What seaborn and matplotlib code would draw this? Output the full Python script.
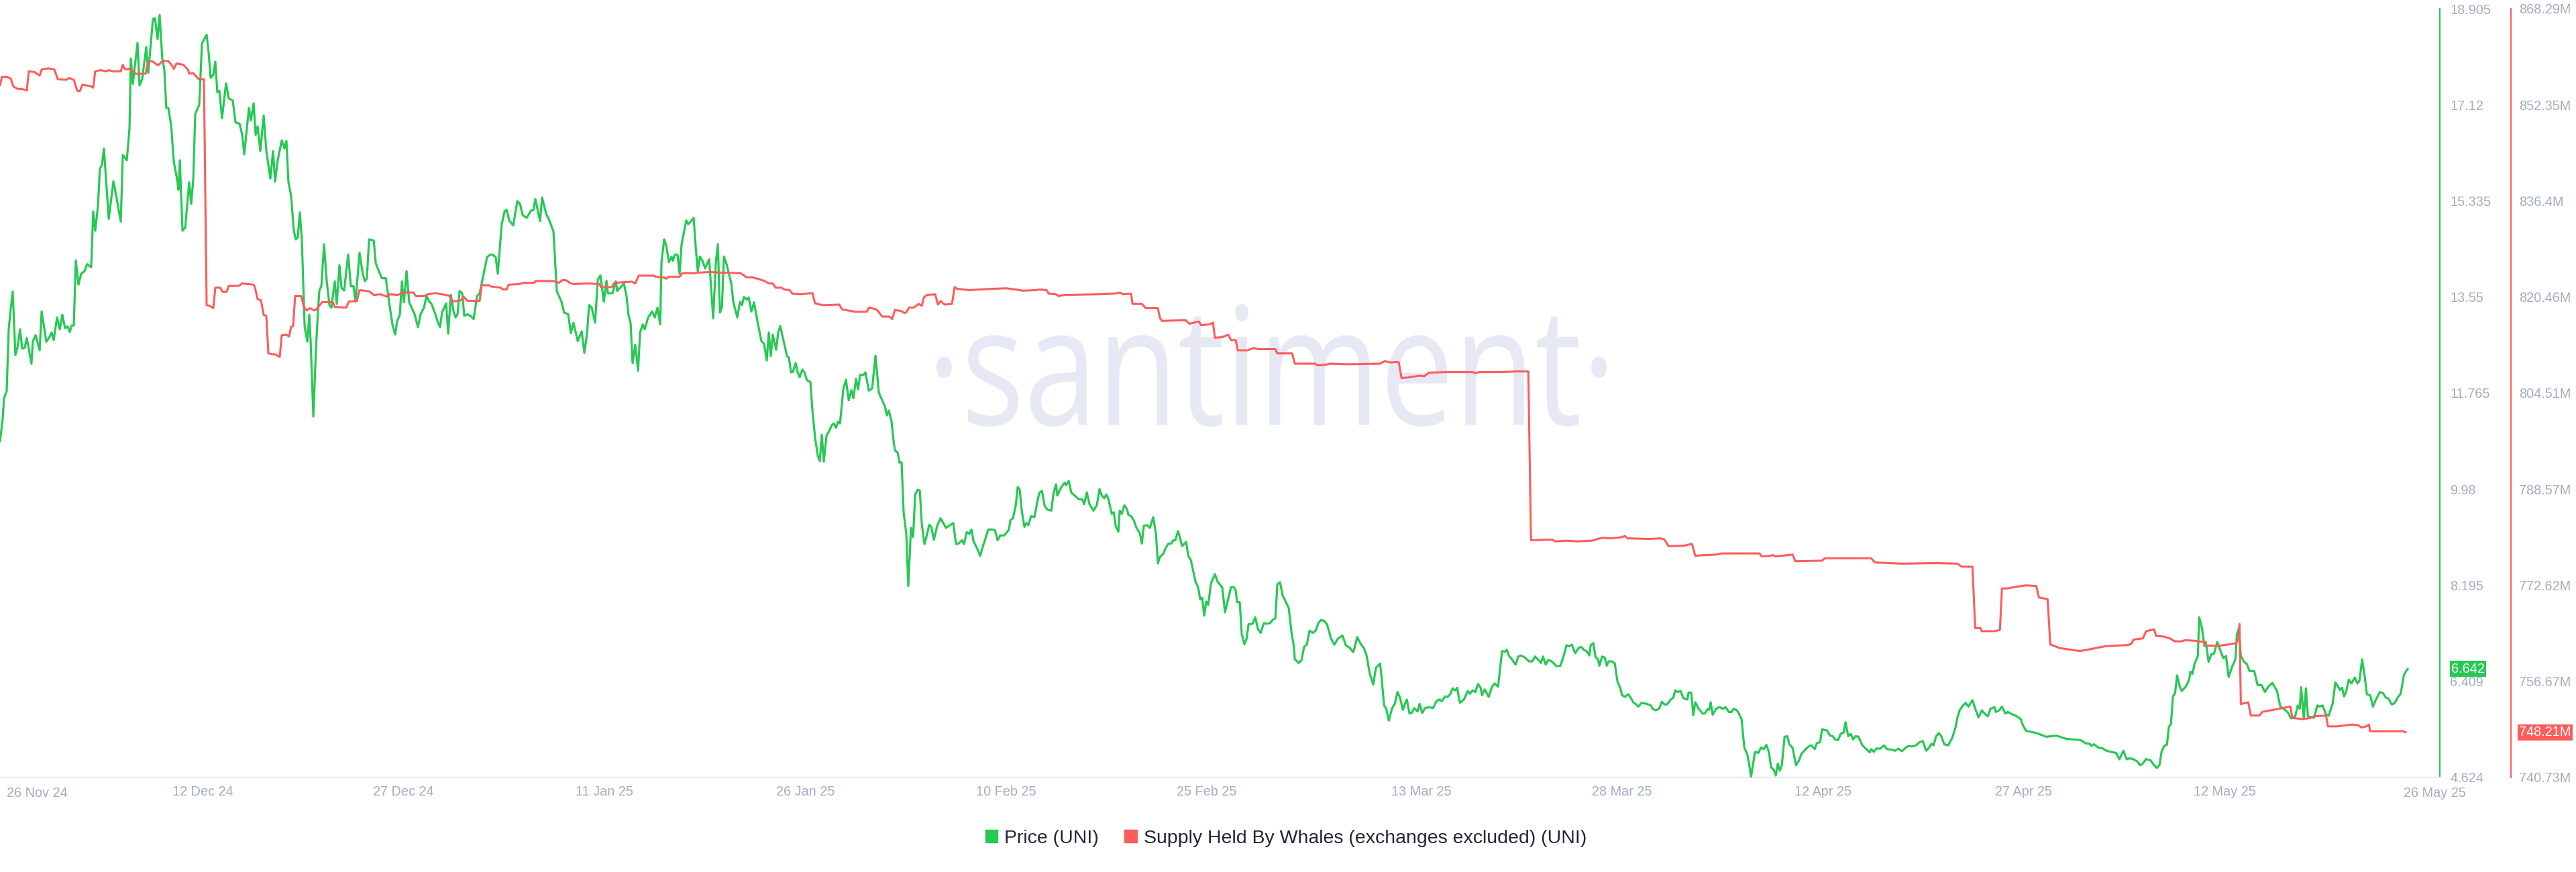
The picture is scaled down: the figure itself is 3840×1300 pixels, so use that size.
import matplotlib
matplotlib.use("Agg")
import matplotlib.pyplot as plt
import matplotlib.patches as mpatches
import matplotlib.transforms as mtransforms
from matplotlib.textpath import TextPath
from matplotlib.font_manager import FontProperties
import seaborn as sns
import pandas as pd

# time axis: days after 2024-11-27 00:00
START = pd.Timestamp("2024-11-27")

price_days = [
    0.37, 0.57, 0.67, 0.87, 1.02, 1.17, 1.32, 1.52, 1.67, 1.87,
    2.02, 2.22, 2.37, 2.72, 2.82, 3.03, 3.33, 3.48, 3.83, 4.03,
    4.23, 4.38, 4.63, 4.83, 5.03, 5.23, 5.43, 5.58, 5.73, 5.88,
    6.03, 6.23, 6.43, 6.68, 6.88, 7.18, 7.33, 7.48, 7.68, 7.83,
    7.98, 8.13, 8.49, 8.84, 9.09, 9.39, 9.54, 9.84, 10.04, 10.14,
    10.29, 10.64, 10.79, 10.99, 11.29, 11.44, 11.79, 11.94, 12.14, 12.29,
    12.49, 12.64, 12.79, 12.94, 13.15, 13.35, 13.60, 13.70, 13.80, 14.00,
    14.20, 14.50, 14.65, 14.80, 14.95, 15.25, 15.45, 15.80, 15.95, 16.10,
    16.30, 16.45, 16.60, 16.75, 16.95, 17.25, 17.45, 17.75, 17.96, 18.26,
    18.46, 18.61, 18.96, 19.11, 19.31, 19.46, 19.61, 19.81, 20.06, 20.26,
    20.56, 20.76, 20.91, 21.11, 21.41, 21.61, 21.76, 21.91, 22.11, 22.31,
    22.46, 22.61, 22.76, 22.91, 23.12, 23.32, 23.47, 23.57, 23.77, 23.97,
    24.12, 24.22, 24.37, 24.57, 24.77, 24.97, 25.12, 25.37, 25.52, 25.72,
    25.87, 26.07, 26.37, 26.57, 26.77, 26.92, 27.22, 27.47, 27.62, 27.77,
    27.93, 28.28, 28.43, 28.58, 28.88, 29.18, 29.43, 29.68, 29.88, 30.03,
    30.23, 30.38, 30.53, 30.73, 30.93, 31.33, 31.58, 31.78, 32.03, 32.23,
    32.43, 32.58, 32.88, 33.08, 33.23, 33.38, 33.69, 33.84, 34.04, 34.24,
    34.39, 34.54, 34.69, 34.89, 35.04, 35.29, 35.49, 35.74, 35.99, 36.19,
    36.49, 36.74, 36.94, 37.14, 37.39, 37.54, 37.84, 38.05, 38.20, 38.40,
    38.70, 39.00, 39.20, 39.40, 39.70, 40.05, 40.20, 40.35, 40.70, 40.85,
    41.15, 41.40, 41.70, 41.95, 42.30, 42.50, 42.80, 43.00, 43.20, 43.51,
    43.81, 44.01, 44.21, 44.36, 44.56, 44.81, 45.01, 45.21, 45.46, 45.66,
    45.76, 46.11, 46.36, 46.46, 46.96, 47.16, 47.31, 47.46, 47.61, 47.81,
    48.02, 48.17, 48.37, 48.52, 48.77, 49.07, 49.27, 49.47, 49.67, 49.77,
    49.97, 50.12, 50.32, 50.52, 50.62, 50.77, 50.97, 51.12, 51.27, 51.62,
    51.77, 52.17, 52.33, 52.48, 52.63, 52.83, 53.03, 53.23, 53.33, 53.63,
    53.83, 53.98, 54.13, 54.28, 54.43, 54.63, 54.98, 55.13, 55.43, 55.63,
    55.78, 55.93, 56.13, 56.28, 56.48, 56.68, 56.93, 57.23, 57.43, 57.63,
    57.78, 57.93, 58.08, 58.33, 58.49, 58.64, 58.89, 59.14, 59.29, 59.44,
    59.59, 59.79, 59.94, 60.09, 60.29, 60.44, 60.64, 60.89, 61.04, 61.24,
    61.44, 61.59, 61.74, 61.89, 62.09, 62.29, 62.49, 62.64, 62.80, 62.95,
    63.10, 63.35, 63.55, 63.75, 63.95, 64.10, 64.30, 64.45, 64.60, 64.85,
    65.00, 65.25, 65.50, 65.75, 66.00, 66.25, 66.45, 66.60, 66.75, 66.95,
    67.10, 67.20, 67.40, 67.55, 67.70, 67.85, 68.05, 68.20, 68.40, 68.56,
    68.71, 68.91, 69.06, 69.21, 69.41, 69.61, 69.76, 69.91, 70.11, 70.36,
    70.61, 70.81, 71.01, 71.31, 71.56, 71.76, 71.96, 72.21, 72.36, 72.56,
    72.76, 72.92, 73.07, 73.32, 73.57, 73.77, 73.92, 74.17, 74.47, 74.67,
    74.87, 75.07, 75.37, 75.72, 75.82, 76.02, 76.22, 76.37, 76.52, 76.67,
    76.87, 77.02, 77.17, 77.37, 77.62, 77.83, 77.98, 78.18, 78.38, 78.58,
    78.88, 79.03, 79.23, 79.33, 79.63, 79.88, 79.98, 80.18, 80.38, 80.68,
    80.93, 81.18, 81.33, 81.53, 81.73, 82.03, 82.28, 82.48, 82.63, 82.83,
    82.98, 83.13, 83.39, 83.54, 83.69, 83.89, 83.99, 84.14, 84.34, 84.54,
    84.64, 84.84, 85.04, 85.24, 85.49, 85.64, 85.79, 86.04, 86.24, 86.49,
    86.69, 86.84, 86.99, 87.24, 87.44, 87.64, 87.84, 87.99, 88.14, 88.34,
    88.44, 88.65, 88.95, 89.10, 89.30, 89.45, 89.65, 89.85, 90.00, 90.15,
    90.30, 90.45, 90.60, 90.80, 91.10, 91.30, 91.65, 91.85, 92.30, 92.50,
    92.65, 92.75, 92.95, 93.10, 93.30, 93.46, 93.61, 93.91, 94.11, 94.31,
    94.51, 94.76, 94.96, 95.21, 95.41, 95.61, 95.76, 95.96, 96.16, 96.31,
    96.61, 96.81, 97.01, 97.06, 97.36, 97.56, 97.76, 97.96, 98.16, 98.41,
    98.62, 98.82, 99.02, 99.27, 99.47, 99.77, 100.02, 100.27, 100.62, 100.87,
    101.17, 101.42, 101.52, 101.72, 102.02, 102.22, 102.42, 102.67, 102.92, 103.12,
    103.43, 103.53, 103.73, 103.88, 104.08, 104.33, 104.53, 104.73, 104.93, 105.13,
    105.33, 105.43, 105.63, 105.78, 105.98, 106.23, 106.38, 106.58, 106.78, 107.08,
    107.38, 107.64, 107.84, 108.04, 108.29, 108.49, 108.69, 108.84, 109.04, 109.19,
    109.39, 109.69, 109.99, 110.14, 110.34, 110.54, 110.74, 110.94, 111.04, 111.24,
    111.54, 111.79, 111.99, 112.24, 112.54, 112.79, 112.89, 113.04, 113.24, 113.55,
    113.75, 113.95, 114.25, 114.55, 114.80, 115.00, 115.25, 115.45, 115.60, 115.80,
    116.00, 116.30, 116.60, 116.90, 117.15, 117.35, 117.55, 117.75, 118.00, 118.25,
    118.45, 118.66, 118.86, 119.06, 119.16, 119.36, 119.51, 119.71, 119.81, 120.01,
    120.21, 120.36, 120.51, 120.76, 120.96, 121.16, 121.36, 121.51, 121.71, 121.96,
    122.16, 122.36, 122.51, 122.71, 122.96, 123.36, 123.67, 123.77, 124.02, 124.27,
    124.47, 124.67, 124.87, 125.17, 125.32, 125.47, 125.67, 125.87, 126.07, 126.37,
    126.47, 126.67, 126.82, 126.97, 127.22, 127.52, 127.67, 127.92, 128.02, 128.12,
    128.27, 128.52, 128.77, 129.02, 129.23, 129.48, 129.68, 129.83, 130.08, 130.23,
    130.43, 130.63, 130.88, 131.03, 131.13, 131.43, 131.68, 131.88, 132.08, 132.28,
    132.48, 132.63, 132.83, 132.98, 133.13, 133.28, 133.43, 133.64, 133.84, 133.99,
    134.24, 134.49, 134.74, 134.89, 135.19, 135.49, 135.64, 135.89, 136.04, 136.29,
    136.44, 136.64, 136.79, 137.04, 137.24, 137.39, 137.64, 137.84, 138.04, 138.19,
    138.39, 138.59, 138.75, 138.95, 139.15, 139.45, 139.75, 140.00, 140.10, 140.30,
    140.50, 140.80, 141.05, 141.30, 141.60, 141.90, 142.15, 142.40, 142.65, 142.90,
    143.16, 143.46, 143.71, 143.96, 144.21, 144.41, 144.61, 144.76, 144.96, 145.16,
    145.36, 145.56, 145.86, 146.16, 146.41, 146.56, 146.71, 146.96, 147.16, 147.37,
    147.67, 147.92, 148.12, 148.37, 148.57, 148.82, 149.02, 149.32, 149.42, 149.67,
    149.87, 150.12, 150.32, 150.52, 150.72, 150.97, 151.27, 151.42, 151.67, 152.43,
    153.18, 153.93, 154.68, 155.68, 155.88, 156.08, 156.43, 156.53, 156.73, 157.13,
    157.33, 157.68, 157.98, 158.39, 158.64, 158.94, 159.19, 159.44, 159.69, 159.99,
    160.19, 160.39, 160.64, 160.74, 160.94, 161.24, 161.44, 161.64, 161.79, 161.99,
    162.19, 162.34, 162.49, 162.64, 162.80, 162.95, 163.15, 163.30, 163.60, 163.85,
    163.95, 164.10, 164.25, 164.50, 164.60, 164.80, 165.00, 165.10, 165.30, 165.50,
    165.70, 165.95, 166.20, 166.40, 166.60, 166.80, 167.06, 167.31, 167.41, 167.56,
    167.71, 167.96, 168.16, 168.36, 168.71, 168.96, 169.26, 169.51, 169.76, 170.06,
    170.41, 170.66, 171.01, 171.26, 171.46, 171.76, 171.96, 172.11, 172.21, 172.41,
    172.57, 172.72, 173.02, 173.17, 173.42, 173.62, 173.82, 174.07, 174.27, 174.57,
    174.77, 174.97, 175.12, 175.27, 175.42, 175.57, 175.77, 175.97, 176.22, 176.42,
    176.57, 176.77, 176.97, 177.12, 177.37, 177.58, 177.78, 178.08, 178.33, 178.53,
    178.73, 178.98, 179.18, 179.48, 179.63, 179.78, 179.88, 180.03, 180.18,
]

price_usd = [
    10.87, 11.28, 11.67, 11.80, 12.95, 13.33, 13.65, 12.47, 12.61, 12.95,
    12.59, 12.61, 12.79, 12.31, 12.72, 12.84, 12.56, 13.28, 12.72, 12.79,
    12.89, 12.75, 13.17, 12.95, 13.22, 12.97, 13.00, 12.90, 13.02, 13.02,
    14.23, 13.78, 13.98, 14.03, 14.16, 14.10, 15.14, 14.78, 15.23, 15.93,
    16.00, 16.31, 15.00, 15.70, 15.37, 14.95, 16.19, 16.09, 16.68, 17.98,
    17.51, 18.27, 17.48, 17.60, 18.19, 17.71, 18.71, 18.73, 18.34, 18.79,
    17.98, 17.78, 17.06, 17.06, 16.74, 16.06, 15.73, 15.54, 16.09, 14.78,
    14.84, 15.68, 15.28, 15.73, 16.95, 17.12, 18.26, 18.42, 18.09, 17.62,
    17.68, 17.92, 17.35, 17.38, 16.87, 17.52, 17.24, 17.20, 16.79, 16.77,
    16.56, 16.20, 17.06, 16.83, 17.15, 16.56, 16.72, 16.26, 16.92, 16.26,
    15.75, 16.26, 15.69, 16.09, 16.46, 16.31, 16.45, 15.68, 15.43, 14.78,
    14.62, 14.66, 15.12, 14.62, 13.00, 12.72, 13.22, 12.72, 11.33, 12.61,
    13.31, 13.67, 13.75, 14.53, 13.84, 13.40, 13.35, 13.84, 13.42, 14.14,
    13.72, 13.67, 14.34, 13.75, 13.75, 13.46, 14.37, 13.97, 13.84, 13.90,
    14.62, 14.60, 14.18, 14.08, 13.90, 13.90, 13.45, 13.03, 12.85, 13.10,
    13.22, 13.84, 13.45, 14.03, 13.45, 13.23, 12.99, 13.23, 13.35, 13.57,
    13.46, 13.43, 13.23, 13.07, 12.99, 13.26, 13.43, 12.87, 13.59, 13.28,
    13.17, 13.23, 13.66, 13.62, 13.20, 13.23, 13.20, 13.14, 13.56, 13.62,
    13.98, 14.29, 14.33, 14.34, 14.29, 13.98, 14.90, 15.14, 15.17, 14.97,
    14.88, 15.33, 15.28, 15.07, 15.02, 15.16, 15.16, 15.37, 14.96, 15.40,
    15.10, 14.97, 14.77, 13.66, 13.46, 13.26, 13.23, 12.88, 13.07, 12.73,
    12.91, 12.51, 12.87, 13.40, 13.35, 13.07, 13.87, 13.95, 13.46, 13.85,
    13.62, 13.62, 13.84, 13.66, 13.80, 13.56, 13.21, 13.07, 12.32, 12.66,
    12.18, 12.89, 13.04, 12.95, 13.17, 13.28, 13.17, 13.35, 13.04, 14.20,
    14.62, 14.51, 14.20, 14.30, 14.22, 14.34, 14.33, 13.98, 14.53, 14.97,
    14.90, 15.02, 14.46, 14.03, 14.30, 14.22, 14.08, 14.20, 14.25, 13.15,
    14.20, 14.53, 13.26, 13.35, 14.30, 14.16, 13.80, 13.46, 13.17, 13.46,
    13.40, 13.55, 13.50, 13.54, 13.28, 13.45, 13.10, 12.73, 12.68, 12.37,
    12.89, 12.45, 12.85, 12.57, 12.90, 13.01, 12.73, 12.45, 12.42, 12.15,
    12.16, 12.32, 12.15, 12.06, 12.20, 12.15, 12.00, 11.97, 11.44, 10.93,
    10.60, 10.50, 10.99, 10.49, 10.97, 11.06, 11.17, 11.20, 11.12, 11.23,
    11.20, 11.85, 12.01, 11.63, 11.82, 11.67, 12.03, 11.83, 12.10, 12.10,
    12.15, 11.81, 11.85, 12.46, 11.77, 11.63, 11.52, 11.35, 11.44, 11.23,
    10.88, 10.70, 10.66, 10.47, 10.48, 9.55, 9.15, 8.18, 9.26, 9.09,
    9.88, 9.97, 9.95, 9.32, 8.96, 9.15, 9.32, 9.28, 9.04, 9.30,
    9.44, 9.35, 9.26, 9.31, 9.35, 8.96, 8.97, 9.03, 8.96, 9.18,
    9.15, 9.23, 9.01, 8.89, 8.74, 8.92, 9.03, 9.23, 9.23, 9.22,
    9.03, 9.12, 9.12, 9.23, 9.40, 9.44, 9.67, 10.02, 9.97, 9.58,
    9.28, 9.35, 9.31, 9.48, 9.46, 9.74, 9.91, 9.95, 9.67, 9.60,
    9.58, 9.88, 10.07, 9.86, 10.02, 10.10, 10.05, 10.13, 9.91, 9.85,
    9.79, 9.79, 9.70, 9.92, 9.70, 9.58, 9.68, 9.98, 9.87, 9.81,
    9.88, 9.81, 9.52, 9.55, 9.29, 9.19, 9.58, 9.52, 9.68, 9.60,
    9.50, 9.48, 9.40, 9.26, 9.16, 8.97, 9.30, 9.31, 9.26, 9.46,
    9.16, 8.60, 8.72, 8.78, 8.90, 8.97, 8.97, 9.03, 9.03, 9.20,
    9.12, 8.92, 9.00, 8.75, 8.66, 8.49, 8.26, 8.15, 7.93, 7.96,
    7.63, 7.89, 7.83, 8.23, 8.40, 8.26, 8.15, 7.69, 8.16, 8.16,
    8.10, 7.88, 7.88, 7.29, 7.10, 7.20, 7.47, 7.48, 7.60, 7.38,
    7.31, 7.49, 7.48, 7.49, 7.55, 7.58, 8.21, 8.25, 8.00, 7.93,
    7.77, 7.33, 7.03, 6.82, 6.75, 6.80, 7.05, 7.09, 7.35, 7.31,
    7.35, 7.49, 7.55, 7.53, 7.47, 7.20, 7.09, 7.20, 7.26, 7.08,
    7.03, 6.95, 7.03, 7.23, 7.09, 7.03, 6.89, 6.54, 6.35, 6.66,
    6.74, 6.52, 5.96, 5.91, 5.68, 5.91, 5.99, 6.21, 6.10, 5.88,
    6.02, 6.07, 5.81, 5.82, 5.91, 5.85, 5.99, 5.82, 5.91, 5.93,
    5.91, 6.04, 6.07, 6.04, 6.13, 6.12, 6.18, 6.28, 6.24, 6.29,
    6.01, 6.07, 6.23, 6.18, 6.24, 6.21, 6.36, 6.29, 6.15, 6.26,
    6.12, 6.31, 6.37, 6.31, 6.97, 6.96, 7.00, 6.89, 6.83, 6.72,
    6.87, 6.89, 6.85, 6.78, 6.78, 6.87, 6.81, 6.75, 6.87, 6.72,
    6.81, 6.77, 6.69, 6.70, 6.89, 7.08, 7.06, 7.09, 6.93, 7.03,
    7.05, 6.99, 6.97, 6.89, 7.08, 7.12, 6.87, 6.81, 6.70, 6.87,
    6.85, 6.70, 6.78, 6.78, 6.74, 6.40, 6.29, 6.15, 6.12, 6.17,
    6.10, 6.01, 5.99, 5.94, 6.01, 5.99, 5.96, 5.90, 5.87, 5.90,
    6.03, 5.98, 5.98, 6.08, 6.10, 6.24, 6.21, 6.23, 6.10, 6.07,
    6.20, 6.20, 5.78, 6.02, 5.90, 5.81, 5.81, 5.90, 5.88, 6.02,
    5.79, 5.90, 5.93, 5.90, 5.93, 5.84, 5.84, 5.90, 5.87, 5.81,
    5.70, 5.18, 5.03, 4.81, 4.63, 5.10, 5.08, 5.18, 5.15, 5.23,
    5.08, 4.81, 4.77, 4.66, 4.88, 4.75, 4.85, 5.38, 5.39, 5.24,
    5.17, 4.85, 4.95, 5.06, 5.14, 5.21, 5.22, 5.15, 5.26, 5.28,
    5.52, 5.50, 5.50, 5.40, 5.39, 5.33, 5.32, 5.44, 5.45, 5.65,
    5.39, 5.43, 5.33, 5.39, 5.38, 5.22, 5.15, 5.09, 5.15, 5.10,
    5.16, 5.16, 5.22, 5.15, 5.14, 5.12, 5.16, 5.11, 5.17, 5.21,
    5.20, 5.22, 5.28, 5.30, 5.12, 5.17, 5.25, 5.22, 5.39, 5.45,
    5.38, 5.24, 5.22, 5.36, 5.56, 5.75, 5.87, 5.96, 6.01, 5.94,
    6.06, 5.87, 5.74, 5.87, 5.81, 5.76, 5.90, 5.93, 5.84, 5.87,
    5.94, 5.81, 5.84, 5.81, 5.79, 5.76, 5.71, 5.60, 5.49, 5.45,
    5.38, 5.40, 5.34, 5.32, 5.30, 5.26, 5.25, 5.21, 5.24, 5.17,
    5.17, 5.12, 5.10, 5.08, 4.96, 5.12, 4.96, 4.98, 4.96, 4.92,
    4.85, 4.88, 4.97, 4.95, 4.95, 4.85, 4.80, 4.86, 5.10, 5.21,
    5.23, 5.57, 5.61, 6.13, 6.19, 6.52, 6.31, 6.23, 6.31, 6.44,
    6.59, 6.55, 6.73, 6.88, 7.60, 7.41, 7.06, 7.14, 6.77, 6.91,
    6.92, 7.14, 6.97, 6.84, 6.88, 6.49, 6.68, 6.82, 7.27, 7.39,
    6.88, 6.77, 6.73, 6.60, 6.60, 6.34, 6.34, 6.21, 6.31, 6.38,
    6.23, 5.94, 5.88, 5.82, 5.72, 5.75, 5.96, 5.90, 6.30, 5.73,
    6.28, 5.75, 5.75, 5.73, 5.96, 5.94, 5.96, 5.79, 5.77, 6.00,
    6.39, 6.31, 6.25, 6.29, 6.13, 6.21, 6.44, 6.37, 6.48, 6.37,
    6.42, 6.82, 6.48, 6.17, 6.15, 5.94, 6.06, 6.21, 6.19, 6.11,
    6.09, 5.98, 6.00, 6.13, 6.17, 6.36, 6.52, 6.59, 6.642,
]

supply_days = [
    0.37, 0.52, 0.87, 1.17, 1.37, 1.67, 1.97, 2.37, 2.52, 2.93,
    3.33, 3.48, 3.98, 4.43, 4.68, 5.33, 5.53, 5.88, 6.13, 6.33,
    6.53, 7.18, 7.33, 7.48, 7.88, 8.29, 8.49, 8.79, 9.39, 9.54,
    9.69, 9.89, 10.09, 10.29, 10.49, 11.24, 11.44, 11.74, 12.09, 12.24,
    12.49, 12.94, 13.20, 13.35, 13.55, 14.05, 14.40, 14.50, 14.80, 15.05,
    15.20, 15.60, 15.80, 16.00, 16.30, 16.45, 16.80, 17.00, 17.30, 17.45,
    18.21, 18.46, 19.31, 19.41, 19.61, 19.86, 20.06, 20.26, 20.41, 20.96,
    21.26, 21.41, 21.76, 21.96, 22.11, 22.26, 22.41, 22.86, 23.07, 23.27,
    23.52, 23.87, 24.12, 24.42, 25.22, 25.37, 26.22, 26.42, 27.02, 27.22,
    27.93, 28.28, 28.78, 29.28, 29.48, 30.08, 30.48, 31.23, 31.43, 32.03,
    32.33, 32.88, 33.89, 34.19, 34.79, 34.99, 35.29, 36.19, 36.34, 36.89,
    37.04, 37.74, 37.95, 38.20, 38.35, 39.15, 39.45, 40.25, 40.35, 41.70,
    42.10, 42.40, 42.70, 42.90, 43.20, 44.31, 45.11, 45.26, 46.06, 46.26,
    47.56, 47.81, 48.07, 49.17, 49.37, 49.92, 50.12, 50.32, 51.12, 51.32,
    52.23, 52.53, 53.43, 54.23, 55.68, 55.88, 56.13, 56.58, 57.08, 57.48,
    57.78, 58.08, 58.28, 58.74, 58.94, 59.34, 59.54, 60.14, 61.04, 61.24,
    61.79, 63.05, 63.25, 64.25, 65.10, 65.25, 65.80, 65.95, 66.25, 66.80,
    67.00, 67.20, 67.70, 67.90, 68.05, 68.25, 68.61, 68.96, 69.21, 69.36,
    69.61, 70.21, 70.41, 70.61, 70.91, 71.46, 71.66, 71.86, 72.76, 74.37,
    75.52, 76.52, 76.72, 77.73, 78.03, 78.53, 78.68, 79.23, 79.43, 79.83,
    82.28, 83.59, 83.99, 84.24, 84.84, 84.94, 85.64, 85.94, 86.84, 86.99,
    87.14, 88.90, 89.20, 89.90, 90.05, 90.70, 90.95, 91.10, 91.65, 92.10,
    92.30, 92.65, 92.80, 93.51, 94.01, 94.31, 95.61, 95.76, 96.86, 97.06,
    98.57, 98.77, 99.37, 99.67, 100.97, 103.43, 103.78, 104.23, 104.68, 104.83,
    105.03, 105.53, 106.38, 106.73, 107.08, 108.39, 110.34, 110.54, 110.84, 112.34,
    113.65, 114.50, 114.70, 116.30, 116.50, 117.40, 118.20, 119.26, 119.66, 120.06,
    120.66, 121.51, 121.71, 121.91, 123.57, 124.37, 124.67, 124.97, 126.17, 126.72,
    126.97, 127.52, 128.52, 128.92, 131.78, 131.93, 132.48, 132.78, 132.98, 134.24,
    134.44, 136.44, 136.64, 140.10, 140.40, 142.40, 144.96, 146.56, 146.86, 147.67,
    147.87, 148.27, 148.37, 149.32, 149.72, 149.87, 150.32, 150.72, 151.67, 152.43,
    152.63, 153.28, 153.48, 154.18, 155.68, 156.43, 157.59, 159.29, 159.54, 159.69,
    160.39, 160.64, 161.24, 161.39, 161.99, 162.39, 162.80, 163.25, 163.55, 164.30,
    165.00, 165.10, 166.20, 167.36, 167.56, 167.61, 167.71, 168.26, 168.46, 169.11,
    169.31, 170.26, 171.41, 171.56, 172.36, 172.92, 173.22, 174.07, 174.22, 174.87,
    176.02, 176.47, 176.72, 177.07, 177.27, 177.37, 179.83, 180.03,
]

# millions of UNI
supply_m = [
    855.6, 857.0, 857.0, 856.7, 855.4, 855.0, 855.0, 854.7, 857.9, 857.8,
    857.2, 858.2, 858.4, 858.2, 856.6, 856.5, 856.8, 856.5, 854.7, 854.6,
    855.7, 855.4, 855.2, 857.9, 858.1, 857.9, 858.1, 857.9, 857.9, 859.0,
    858.3, 858.2, 858.4, 858.0, 857.5, 857.5, 859.5, 859.6, 859.0, 859.0,
    859.6, 859.6, 858.9, 858.3, 859.2, 859.0, 858.2, 857.5, 857.6, 857.0,
    856.6, 856.6, 819.1, 819.0, 818.6, 822.0, 822.0, 821.3, 821.3, 822.3,
    822.3, 822.7, 822.5, 822.0, 820.1, 819.9, 817.5, 817.3, 811.1, 810.9,
    810.5, 814.1, 814.2, 813.9, 815.5, 815.6, 820.6, 820.6, 818.8, 818.2,
    818.6, 818.2, 818.7, 819.6, 819.6, 818.8, 818.7, 819.7, 819.8, 821.6,
    821.4, 820.8, 820.9, 820.5, 820.9, 820.8, 821.2, 821.2, 820.6, 820.6,
    820.9, 821.1, 820.7, 819.7, 819.9, 820.5, 819.8, 819.8, 822.4, 822.4,
    822.2, 822.0, 821.7, 821.7, 822.5, 822.6, 822.8, 822.8, 823.1, 823.1,
    822.8, 823.3, 823.2, 822.8, 822.6, 822.7, 822.6, 822.1, 822.1, 822.8,
    823.0, 822.7, 824.0, 824.0, 823.8, 823.7, 823.5, 823.8, 823.8, 824.4,
    824.4, 824.5, 824.6, 824.5, 824.4, 824.1, 823.7, 823.7, 823.4, 823.1,
    822.7, 822.7, 822.0, 822.0, 821.7, 821.6, 821.0, 820.9, 821.1, 819.4,
    819.1, 819.2, 818.4, 818.0, 818.0, 818.7, 818.4, 818.1, 817.2, 817.2,
    816.8, 818.3, 818.1, 817.8, 817.9, 818.7, 818.7, 819.3, 819.0, 820.4,
    820.8, 820.9, 819.2, 819.8, 819.2, 819.3, 822.1, 821.8, 821.6, 821.8,
    821.9, 821.6, 821.5, 821.6, 821.7, 821.6, 821.0, 820.9, 820.6, 820.8,
    820.9, 821.0, 821.2, 820.9, 821.0, 819.3, 819.3, 818.6, 818.6, 817.0,
    816.5, 816.6, 816.0, 816.4, 815.8, 815.9, 816.2, 813.7, 813.8, 814.2,
    813.3, 813.3, 811.6, 811.6, 812.0, 811.8, 811.8, 811.1, 811.1, 809.4,
    809.4, 809.1, 809.2, 809.4, 809.3, 809.4, 809.8, 809.6, 809.7, 809.6,
    807.0, 807.1, 807.4, 807.3, 807.9, 808.0, 808.0, 807.8, 808.0, 808.0,
    808.1, 808.1, 780.1, 780.2, 779.9, 780.0, 779.9, 780.0, 780.3, 780.5,
    780.4, 780.6, 780.8, 780.4, 780.3, 780.4, 780.2, 779.1, 779.2, 779.5,
    777.5, 777.6, 777.7, 777.9, 777.9, 777.4, 777.5, 777.6, 777.4, 777.7,
    776.6, 776.7, 777.1, 777.1, 776.4, 776.2, 776.3, 776.2, 775.7, 775.7,
    765.5, 765.5, 765.0, 765.0, 765.2, 772.1, 772.1, 772.3, 772.6, 772.5,
    770.6, 770.3, 762.8, 762.2, 761.7, 762.0, 762.5, 762.7, 762.9, 763.6,
    763.8, 765.0, 765.3, 764.2, 764.1, 763.8, 763.3, 763.3, 763.5, 763.4,
    763.2, 762.6, 762.6, 763.0, 763.9, 766.2, 752.9, 753.2, 751.0, 751.0,
    751.6, 752.0, 752.5, 750.6, 750.4, 750.6, 750.9, 751.0, 749.2, 749.2,
    749.5, 749.4, 749.0, 749.2, 749.5, 748.4, 748.4, 748.21,
]

price_ticks = [4.624, 6.409, 8.195, 9.98, 11.765, 13.55, 15.335, 17.12, 18.905]
supply_ticks = [740.73, 756.67, 772.62, 788.57, 804.51, 820.46, 836.4, 852.35, 868.29]

date_ticks = ["2024-12-12 12:00", "2024-12-27 12:00", "2025-01-11 12:00",
              "2025-01-26 12:00", "2025-02-10 12:00", "2025-02-25 12:00",
              "2025-03-13 12:00", "2025-03-28 12:00", "2025-04-12 12:00",
              "2025-04-27 12:00", "2025-05-12 12:00"]
date_labels = ["12 Dec 24", "27 Dec 24", "11 Jan 25", "26 Jan 25", "10 Feb 25",
               "25 Feb 25", "13 Mar 25", "28 Mar 25", "12 Apr 25", "27 Apr 25",
               "12 May 25"]
first_label = "26 Nov 24"
last_label = "26 May 25"

price_name = "Price (UNI)"
supply_name = "Supply Held By Whales (exchanges excluded) (UNI)"

GREEN = "#26C953"
RED = "#FF5B5B"
TICK = "#A3ACC4"
AXIS = "#E6E9F2"
WATERMARK = "#E6E9F3"
LEGEND_TXT = "#23263A"

sns.set_style("white")
plt.rcParams["font.family"] = ["Liberation Sans", "DejaVu Sans"]

price_time = START + pd.to_timedelta(pd.Series(price_days), unit="D")
supply_time = START + pd.to_timedelta(pd.Series(supply_days), unit="D")

W, H = 3840, 1300
fig = plt.figure(figsize=(W / 100, H / 100), dpi=100)
ax = fig.add_axes([0, 141 / H, 3637 / W, 1146 / H])

sns.lineplot(x=price_time, y=pd.Series(price_usd), ax=ax, color=GREEN,
             linewidth=2.3, estimator=None, zorder=3)
ax2 = ax.twinx()
sns.lineplot(x=supply_time, y=pd.Series(supply_m), ax=ax2, color=RED,
             linewidth=2.2, estimator=None, zorder=3)

ax.set_xlim(START + pd.Timedelta(days=0.37), START + pd.Timedelta(days=182.57))
ax.set_ylim(price_ticks[0], price_ticks[-1])
ax2.set_ylim(supply_ticks[0], supply_ticks[-1])
ax.set_xlabel("")
ax.set_ylabel("")
ax2.set_ylabel("")

ax.set_xticks(pd.to_datetime(date_ticks))
ax.set_xticklabels(date_labels)
ax.yaxis.tick_right()
ax.set_yticks(price_ticks)
ax.set_yticklabels([f"{v:g}" for v in price_ticks])
ax2.set_yticks(supply_ticks)
ax2.set_yticklabels([f"{v:g}M" for v in supply_ticks])

ax.tick_params(axis="x", length=0, pad=9, labelsize=14.3, labelcolor=TICK)
ax.tick_params(axis="y", length=0, pad=11, labelsize=14.3, labelcolor=TICK)
ax2.tick_params(axis="y", length=0, pad=8.6, labelsize=14.3, labelcolor=TICK)

for s in ["top", "left"]:
    ax.spines[s].set_visible(False)
for s in ["top", "left", "bottom"]:
    ax2.spines[s].set_visible(False)
ax.spines["right"].set_color(GREEN)
ax.spines["right"].set_linewidth(1.5)
ax.spines["bottom"].set_color(AXIS)
ax.spines["bottom"].set_linewidth(1.6)
ax2.spines["right"].set_position(("axes", 3743 / 3637))
ax2.spines["right"].set_color(RED)
ax2.spines["right"].set_linewidth(1.5)
ax.grid(False)
ax2.grid(False)

# edge date labels sit at the ends of the axis
ax.text(55 / 3637, -23 / 1146, first_label, transform=ax.transAxes,
        ha="center", va="center", fontsize=14.3, color=TICK)
ax.text(3629 / 3637, -23 / 1146, last_label, transform=ax.transAxes,
        ha="center", va="center", fontsize=14.3, color=TICK, clip_on=False)

# watermark, stretched into its box
tp = TextPath((0, 0), "\u00b7santiment\u00b7", size=100,
              prop=FontProperties(family="Open Sans"))
ext = tp.get_extents()
x0, x1 = 1396 / W, 2395 / W
y0, y1 = 1 - 636 / H, 1 - 453 / H
wm_tr = (mtransforms.Affine2D().translate(-ext.x0, -ext.y0)
         .scale((x1 - x0) / ext.width, (y1 - y0) / ext.height)
         .translate(x0, y0)) + fig.transFigure
ax.add_patch(mpatches.PathPatch(tp, transform=wm_tr, facecolor=WATERMARK,
                                edgecolor="none", zorder=0, clip_on=False))

# last-value tags on the axes
tr_p = mtransforms.blended_transform_factory(ax.transAxes, ax.transData)
ax.text(3654 / 3637, price_usd[-1], f"{price_usd[-1]:.3f}", transform=tr_p,
        ha="left", va="center", color="white", fontsize=14.3, zorder=6,
        clip_on=False,
        bbox=dict(boxstyle="square,pad=0.12", fc=GREEN, ec="none"))
tr_s = mtransforms.blended_transform_factory(ax2.transAxes, ax2.transData)
ax2.text(3755 / 3637, supply_m[-1], f"{supply_m[-1]:.2f}M", transform=tr_s,
         ha="left", va="center", color="white", fontsize=14.3, zorder=6,
         clip_on=False,
         bbox=dict(boxstyle="square,pad=0.12", fc=RED, ec="none"))

handles = [mpatches.Patch(color=GREEN, label=price_name),
           mpatches.Patch(color=RED, label=supply_name)]
fig.legend(handles=handles, loc="center", bbox_to_anchor=(0.4992, 0.0385),
           ncol=2, frameon=False, fontsize=20.5, handlelength=0.65,
           handleheight=0.65, handletextpad=0.35, columnspacing=1.35,
           labelcolor=LEGEND_TXT)

fig.savefig("out.png", dpi=100, facecolor="white")
